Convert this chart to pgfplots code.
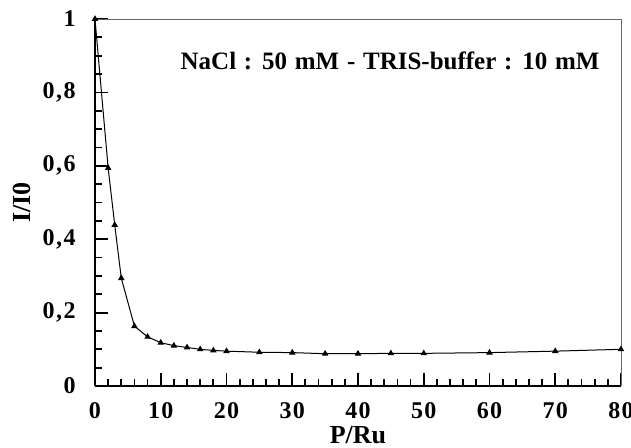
\documentclass[border=0pt]{standalone}
\usepackage{pgfplots}
\pgfplotsset{compat=1.18}
\usepackage{fontspec}
\setmainfont{Liberation Serif}
\newfontfamily\tickfont[LetterSpace=6]{Liberation Serif}
\begin{document}
\begin{tikzpicture}
  % page = 631 x 447 px, 1 px = 0.5pt
  \path[use as bounding box] (-47.5pt,-30.5pt) rectangle (268pt,193pt);
  \begin{axis}[
    scale only axis,
    width=263pt, height=183.5pt,
    xmin=0, xmax=80, ymin=0, ymax=1,
    axis lines=left,
    axis line style={-, line width=1.1pt},
    tick align=inside,
    xtick={0,10,...,80},
    ytick={0,0.2,...,1},
    minor x tick num=4,
    minor y tick num=3,
    major tick length=6.5pt,
    minor tick length=3.5pt,
    every tick/.style={black, line width=0.9pt},
    /pgf/number format/use comma,
    /pgf/number format/assume math mode=true,
    ticklabel style={font=\tickfont\bfseries\fontsize{12}{14}\selectfont, inner sep=0pt},
    xticklabel style={anchor=north, yshift=-8pt},
    yticklabel style={anchor=east, xshift=-9.5pt},
    xlabel={\bfseries P/Ru},
    ylabel={\bfseries I/I0},
    label style={font=\bfseries\fontsize{13}{15}\selectfont, inner sep=0pt},
    xlabel style={at={(axis description cs:0.5,0)}, anchor=center, yshift=-24.5pt},
    ylabel style={at={(axis description cs:0,0.5)}, anchor=center, yshift=36.5pt},
    clip=false,
  ]
    \addplot[black, line width=0.5pt, mark=triangle*, mark size=1.4pt] coordinates {
      (0,1.0) (2,0.594) (3,0.439) (4,0.294) (6,0.163) (8,0.134)
      (10,0.118) (12,0.110) (14,0.105) (16,0.100) (18,0.097) (20,0.095)
      (25,0.092) (30,0.091) (35,0.088) (40,0.088) (45,0.089) (50,0.089)
      (60,0.091) (70,0.095) (80,0.100)
    };
    \draw[gray!80!black, line width=0.4pt] (rel axis cs:0,1) -- (rel axis cs:1,1) -- (rel axis cs:1,0);
    \node[anchor=east, inner sep=0pt, font=\bfseries\fontsize{12.5}{14}\selectfont] at (rel axis cs:0.96,0.885)
      {\spaceskip=0.31em NaCl : 50 mM - TRIS-buffer : 10 mM};
  \end{axis}
\end{tikzpicture}
\end{document}
